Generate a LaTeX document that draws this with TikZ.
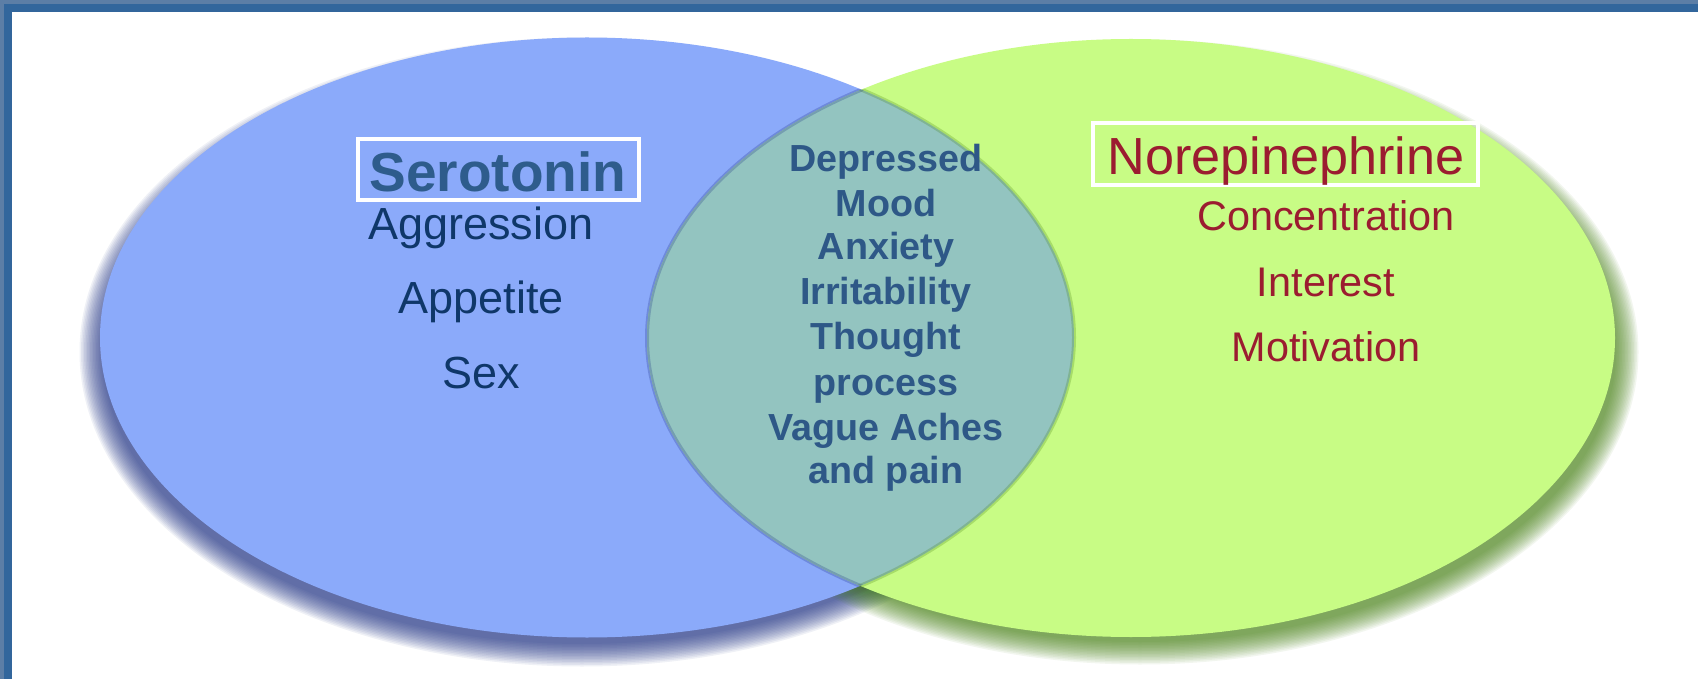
\documentclass[tikz,border=0pt]{standalone}
\usepackage{fontspec}
\setmainfont{Liberation Sans}
\definecolor{frameout}{RGB}{92,126,166}
\definecolor{framein}{RGB}{50,102,156}
\definecolor{serblue}{RGB}{139,170,250}
\definecolor{norgreen}{RGB}{200,252,133}
\definecolor{lens}{RGB}{147,196,192}
\definecolor{shblue}{RGB}{25,45,130}
\definecolor{shgreen}{RGB}{70,130,20}
\definecolor{serotxt}{RGB}{46,92,140}
\definecolor{navytxt}{RGB}{15,55,105}
\definecolor{midtxt}{RGB}{46,88,135}
\definecolor{redtxt}{RGB}{155,28,48}
\begin{document}
\begin{tikzpicture}[x=0.5pt,y=-0.5pt,
  titleL/.style={font=\bfseries\fontsize{27.5pt}{33pt}\selectfont, text=serotxt, anchor=base, inner sep=0pt},
  titleR/.style={font=\fontsize{26.1pt}{31pt}\selectfont, text=redtxt, anchor=base, inner sep=0pt},
  itemL/.style={font=\fontsize{22.5pt}{27pt}\selectfont, text=navytxt, anchor=base, inner sep=0pt},
  itemR/.style={font=\fontsize{20.7pt}{25pt}\selectfont, text=redtxt, anchor=base, inner sep=0pt},
  itemM/.style={font=\bfseries\fontsize{18.85pt}{22.3pt}\selectfont, text=midtxt, anchor=base, inner sep=0pt},
  labelbox/.style={draw=white, line width=2pt}]
\useasboundingbox (0,0) rectangle (1698,679);
% frame
\fill[frameout] (0,0) rectangle (1698,679);
\fill[framein] (4,4) rectangle (1698,679);
\fill[white] (12,12) rectangle (1698,679);
% shadows
\foreach \k in {0,...,15}{
  \fill[shblue, opacity=0.065] (582,352) ellipse [x radius={480+1.5*\k}, y radius={292+1.5*\k}];
}
\foreach \k in {0,...,15}{
  \fill[shgreen, opacity=0.065] (1140,352) ellipse [x radius={476+1.5*\k}, y radius={290+1.5*\k}];
}
% ellipses
\fill[serblue] (587,337.5) ellipse [x radius=487, y radius=300];
\fill[norgreen] (1131,338) ellipse [x radius=484, y radius=299];
\begin{scope}
  \clip (587,337.5) ellipse [x radius=487, y radius=300];
  \fill[lens] (1131,338) ellipse [x radius=484, y radius=299];
  \draw[shblue, opacity=0.25, line width=2pt] (1131,338) ellipse [x radius=484, y radius=299];
\end{scope}
\begin{scope}
  \clip (1131,338) ellipse [x radius=484, y radius=299];
  \draw[shgreen, opacity=0.25, line width=2pt] (587,337.5) ellipse [x radius=487, y radius=300];
\end{scope}
% left labels
\draw[labelbox] (358,139) rectangle (639,200);
\node[titleL] (sero) at (498,192) {Serotonin};
\node[itemL] (aggr) at (481,240) {Aggression};
\node[itemL] (appe) at (481,314) {Appetite};
\node[itemL] (sex) at (481,388) {Sex};
% middle labels
\node[itemM] (m1) at (886,172) {Depressed};
\node[itemM] (m2) at (886,217) {Mood};
\node[itemM] (m3) at (886,260) {Anxiety};
\node[itemM] (m4) at (886,305) {Irritability};
\node[itemM] (m5) at (886,350) {Thought};
\node[itemM] (m6) at (886,395) {process};
\node[itemM] (m7) at (886,440) {Vague Aches};
\node[itemM] (m8) at (886,483) {and pain};
% right labels
\draw[labelbox] (1093,123) rectangle (1478,185);
\node[titleR] (nore) at (1286,175) {Norepinephrine};
\node[itemR] (conc) at (1326,231) {Concentration};
\node[itemR] (inte) at (1326,297) {Interest};
\node[itemR] (moti) at (1326,362) {Motivation};
\end{tikzpicture}
\end{document}
